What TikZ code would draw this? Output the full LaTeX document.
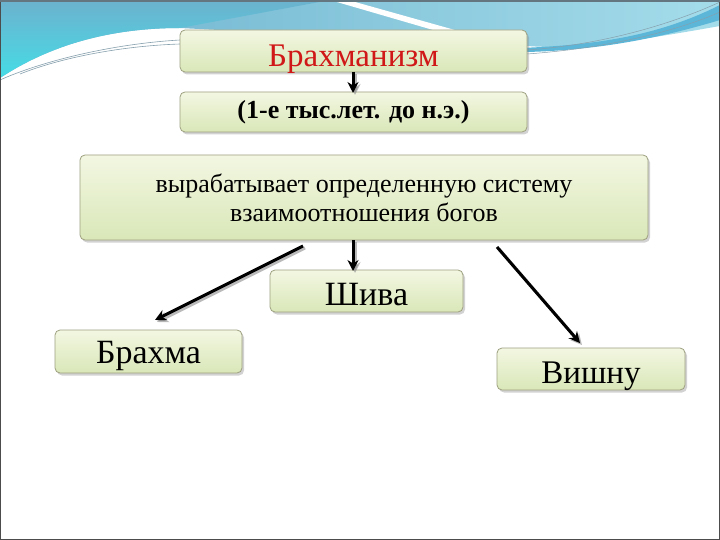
\documentclass[tikz,border=0pt]{standalone}
\usepackage{fontspec}
\setmainfont{Liberation Serif}
\usetikzlibrary{arrows.meta,shadows,calc}
\definecolor{boxdraw}{HTML}{9EA080}
\definecolor{boxtop}{HTML}{F3F7E2}
\definecolor{boxbot}{HTML}{D9E7B8}
\definecolor{titlered}{HTML}{D01818}
\definecolor{skyA}{HTML}{6CB2CE}
\definecolor{skyB}{HTML}{45DCE6}
\definecolor{skyC}{HTML}{A4DCEA}
\definecolor{skyD}{HTML}{5BB6D8}
\newcommand{\lowertext}[2]{\raisebox{-#1}[\height][\depth]{#2}}
\tikzset{
  gbox/.style={draw=boxdraw, line width=0.8pt, rounded corners=5pt,
    top color=boxtop, bottom color=boxbot,
    drop shadow={opacity=0.35, shadow xshift=2pt, shadow yshift=-2.5pt},
    inner sep=0pt, align=center},
  arr/.style={line width=3pt, -{Stealth[length=11pt,width=11pt]}, black},
  arrsh/.style={line width=3pt, -{Stealth[length=11pt,width=11pt]}, black!45, opacity=0.6}
}
\begin{document}
\begin{tikzpicture}[x=1pt,y=-1pt]
\useasboundingbox (0,0) rectangle (720,540);
\fill[white] (0,0) rectangle (720,540);
% header waves
\shade[left color=skyA, right color=skyC]
  (0,0) -- (720,0) -- (720,26) .. controls (640,40) and (580,50) .. (527,46)
  -- (180,28) .. controls (110,28) and (50,45) .. (0,78) -- cycle;
\shade[top color=skyA, bottom color=skyB]
  (0,0) -- (330,0) -- (180,28) .. controls (110,28) and (50,45) .. (0,78) -- cycle;
\fill[white] (330,0) -- (348,0) -- (462,32) -- (440,32) -- cycle;
\fill[skyD] (520,48) .. controls (600,45) and (660,35) .. (720,5) -- (720,20) .. controls (660,38) and (600,50) .. (527,52) -- cycle;
\draw[cyan!40!black!60, line width=0.6pt] (0,80) .. controls (40,62) and (110,44) .. (180,40);
\draw[cyan!40!black!60, line width=0.6pt] (20,74) .. controls (60,58) and (120,46) .. (180,44);
\draw[cyan!40!black!60, line width=0.5pt] (527,50) .. controls (600,45) and (670,25) .. (720,2);
\draw[cyan!40!black!60, line width=0.5pt] (527,54) .. controls (610,48) and (680,30) .. (720,12);
% frame
\draw[black!70, line width=1pt] (0.5,0.5) rectangle (719.5,539.5);
\draw[cyan!30!black!80, line width=2pt] (0,1) -- (720,1);
% boxes
\node[gbox, minimum width=347pt, minimum height=42pt, text=titlered, font=\fontsize{33}{36}\selectfont] (bra) at (353.5,51) {\lowertext{8pt}{Брахманизм}};
\node[gbox, minimum width=347pt, minimum height=40pt, font=\bfseries\fontsize{26}{30}\selectfont] (era) at (353.5,112) {(1-е тыс.лет. до н.э.)};
\node[gbox, minimum width=568pt, minimum height=85pt, font=\fontsize{26}{29}\selectfont] (big) at (364,197.5) {вырабатывает определенную систему\\взаимоотношения богов};
\node[gbox, minimum width=193pt, minimum height=42pt, font=\fontsize{34}{38}\selectfont] (shiva) at (366.5,291) {\lowertext{4pt}{Шива}};
\node[gbox, minimum width=187pt, minimum height=43pt, font=\fontsize{34}{38}\selectfont] (brahma) at (148.5,351.5) {\lowertext{4pt}{Брахма}};
\node[gbox, minimum width=188pt, minimum height=42pt, font=\fontsize{33}{36}\selectfont] (vishnu) at (591,369) {\lowertext{7pt}{Вишну}};
% arrow end points
\coordinate (bS) at (303,246);
\coordinate (bE) at (155,320);
\coordinate (vS) at (497,247);
\coordinate (vE) at (580,343);
\coordinate (sS) at (353,240);
\coordinate (sE) at (353,271);
\coordinate (eS) at (353,72);
\coordinate (eE) at (353,93);
% shadows
\draw[arrsh] ($(eS)+(2,2)$) -- ($(eE)+(2,2)$);
\draw[arrsh] ($(sS)+(2,2)$) -- ($(sE)+(2,2)$);
\draw[arrsh] ($(bS)+(2,2)$) -- ($(bE)+(2,2)$);
\draw[arrsh] ($(vS)+(2,2)$) -- ($(vE)+(2,2)$);
% arrows
\draw[arr] (eS) -- (eE);
\draw[arr] (sS) -- (sE);
\draw[arr] (bS) -- (bE);
\draw[arr] (vS) -- (vE);
\end{tikzpicture}
\end{document}
